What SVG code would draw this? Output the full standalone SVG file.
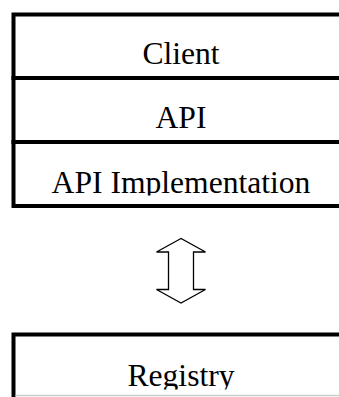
<svg xmlns="http://www.w3.org/2000/svg" width="339" height="397" viewBox="0 0 339 397">
  <style>
    .box { fill: #ffffff; stroke: #000000; stroke-width: 4; }
    .label { font-family: "Liberation Serif", "Times New Roman", serif; font-size: 31.6px; fill: #000000; text-anchor: middle; }
    .arrow { fill: #ffffff; stroke: #000000; stroke-width: 1.3; stroke-linejoin: miter; }
  </style>
  <defs>
    <clipPath id="clip-impl"><rect x="16" y="144" width="330" height="51.5"/></clipPath>
    <clipPath id="clip-registry"><rect x="16" y="337" width="330" height="52.5"/></clipPath>
  </defs>
  <rect width="339" height="397" fill="#ffffff"/>

  <!-- layered stack: client / API / implementation -->
  <g id="client">
    <rect class="box" x="13.5" y="14.5" width="335" height="63.5"/>
    <text class="label" x="181" y="64">Client</text>
  </g>
  <g id="api">
    <rect class="box" x="13.5" y="78" width="335" height="64"/>
    <text class="label" x="181" y="128">API</text>
  </g>
  <g id="api-implementation">
    <rect class="box" x="13.5" y="142" width="335" height="64"/>
    <text class="label" x="181" y="192.5" clip-path="url(#clip-impl)">API Implementation</text>
  </g>

  <!-- two-way link between the stack and the registry -->
  <g id="connectors">
    <polygon class="arrow" points="181,238.5 156.5,252 168.5,252 168.5,289.5 156.5,289.5 181,303 205.5,289.5 193.5,289.5 193.5,252 205.5,252"/>
  </g>

  <g id="registry">
    <rect class="box" x="13.5" y="334.5" width="335" height="90"/>
    <text class="label" x="181" y="385.5" clip-path="url(#clip-registry)">Registry</text>
    <line x1="15.5" y1="395.5" x2="339" y2="395.5" stroke="#cccccc" stroke-width="1.5"/>
  </g>
</svg>
